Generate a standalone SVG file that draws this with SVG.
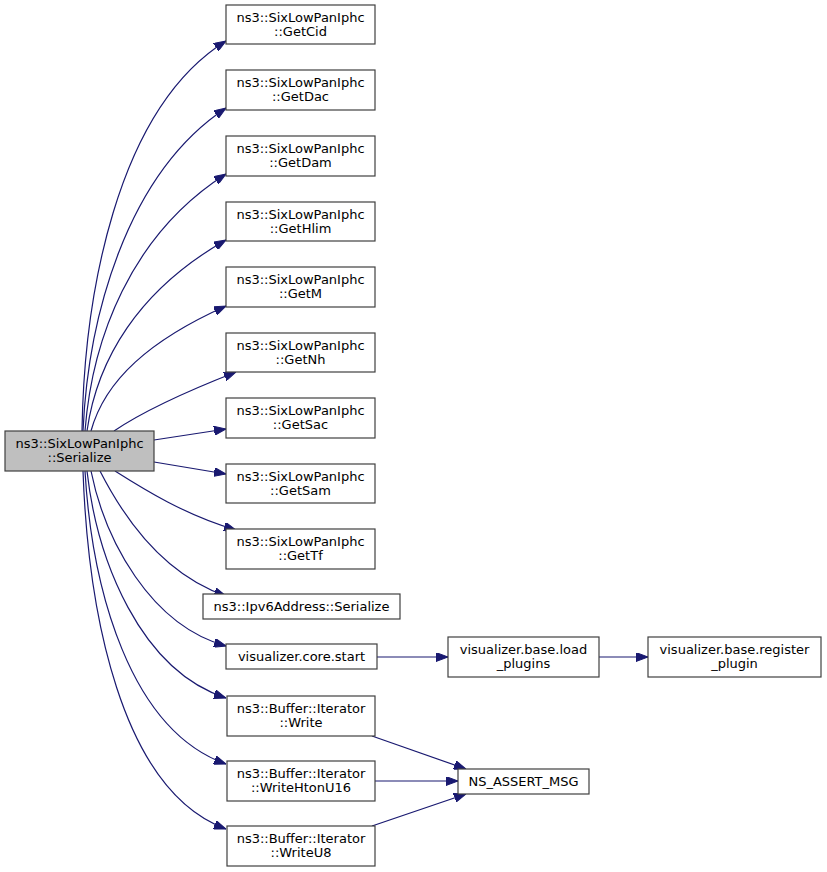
<svg xmlns="http://www.w3.org/2000/svg" width="827" height="872" viewBox="0 0 827 872">
<defs>
<style>
.n rect{fill:#ffffff;stroke:#404040;stroke-width:1.2}
.n.main rect{fill:#bfbfbf}
.n text{font-family:"DejaVu Sans",sans-serif;font-size:13px;fill:#000;text-anchor:middle}
.e path{fill:none;stroke:#191970;stroke-width:1.2;marker-end:url(#a)}
</style>
<marker id="a" markerUnits="userSpaceOnUse" markerWidth="12" markerHeight="9" refX="12" refY="4.5" orient="auto">
<path d="M0,0 L12,4.5 L0,9 z" fill="#191970" stroke="#191970"/>
</marker>
</defs>
<rect width="827" height="872" fill="#ffffff"/>
<g id="edges" class="e">
<path d="M82,431 C84,300 115,110 226,41"/>
<path d="M83,431 C88,320 125,175 226,108"/>
<path d="M85,431 C92,340 130,235 226,174"/>
<path d="M87,431 C97,360 138,290 226,240"/>
<path d="M91,431 C105,380 150,340 226,306"/>
<path d="M114,431 C145,410 190,390 236,372"/>
<path d="M154,440 L226,429"/>
<path d="M154,462 L226,474"/>
<path d="M115,471 C145,490 185,515 236,530"/>
<path d="M100,471 C125,520 165,575 226,596"/>
<path d="M91,471 C105,540 150,625 226,646"/>
<path d="M87,471 C97,560 140,670 226,698"/>
<path d="M85,471 C92,590 130,730 226,764"/>
<path d="M83,471 C88,610 120,790 226,829"/>
<path d="M377,657 L448,657"/>
<path d="M599,657 L648,657"/>
<path d="M372,736 L466,769"/>
<path d="M375,781 L458,781"/>
<path d="M372,826 L466,794"/>
</g>
<g id="n_serialize" class="n main"><rect x="5" y="431" width="149" height="40"/><text x="79.5" y="448">ns3::SixLowPanIphc</text><text x="79.5" y="462">::Serialize</text></g>
<g id="n_getcid" class="n"><rect x="226" y="5" width="149" height="39"/><text x="300.5" y="22">ns3::SixLowPanIphc</text><text x="300.5" y="36">::GetCid</text></g>
<g id="n_getdac" class="n"><rect x="226" y="70" width="149" height="40"/><text x="300.5" y="87">ns3::SixLowPanIphc</text><text x="300.5" y="101">::GetDac</text></g>
<g id="n_getdam" class="n"><rect x="226" y="136" width="149" height="40"/><text x="300.5" y="153">ns3::SixLowPanIphc</text><text x="300.5" y="167">::GetDam</text></g>
<g id="n_gethlim" class="n"><rect x="226" y="202" width="149" height="39"/><text x="300.5" y="219">ns3::SixLowPanIphc</text><text x="300.5" y="233">::GetHlim</text></g>
<g id="n_getm" class="n"><rect x="226" y="267" width="149" height="40"/><text x="300.5" y="284">ns3::SixLowPanIphc</text><text x="300.5" y="298">::GetM</text></g>
<g id="n_getnh" class="n"><rect x="226" y="333" width="149" height="39"/><text x="300.5" y="350">ns3::SixLowPanIphc</text><text x="300.5" y="364">::GetNh</text></g>
<g id="n_getsac" class="n"><rect x="226" y="398" width="149" height="40"/><text x="300.5" y="415">ns3::SixLowPanIphc</text><text x="300.5" y="429">::GetSac</text></g>
<g id="n_getsam" class="n"><rect x="226" y="464" width="149" height="39"/><text x="300.5" y="481">ns3::SixLowPanIphc</text><text x="300.5" y="495">::GetSam</text></g>
<g id="n_gettf" class="n"><rect x="226" y="529" width="149" height="40"/><text x="300.5" y="546">ns3::SixLowPanIphc</text><text x="300.5" y="560">::GetTf</text></g>
<g id="n_ipv6" class="n"><rect x="203" y="594" width="197" height="25"/><text x="301.5" y="611">ns3::Ipv6Address::Serialize</text></g>
<g id="n_start" class="n"><rect x="226" y="644" width="151" height="25"/><text x="301.5" y="661">visualizer.core.start</text></g>
<g id="n_load" class="n"><rect x="448" y="637" width="151" height="40"/><text x="523.5" y="654">visualizer.base.load</text><text x="523.5" y="668">_plugins</text></g>
<g id="n_register" class="n"><rect x="648" y="637" width="173" height="40"/><text x="734.5" y="654">visualizer.base.register</text><text x="734.5" y="668">_plugin</text></g>
<g id="n_write" class="n"><rect x="227" y="696" width="148" height="40"/><text x="301" y="713">ns3::Buffer::Iterator</text><text x="301" y="727">::Write</text></g>
<g id="n_writehton" class="n"><rect x="227" y="761" width="148" height="40"/><text x="301" y="778">ns3::Buffer::Iterator</text><text x="301" y="792">::WriteHtonU16</text></g>
<g id="n_writeu8" class="n"><rect x="227" y="826" width="148" height="40"/><text x="301" y="843">ns3::Buffer::Iterator</text><text x="301" y="857">::WriteU8</text></g>
<g id="n_assert" class="n"><rect x="458" y="769" width="131" height="25"/><text x="523.5" y="786">NS_ASSERT_MSG</text></g>
</svg>
